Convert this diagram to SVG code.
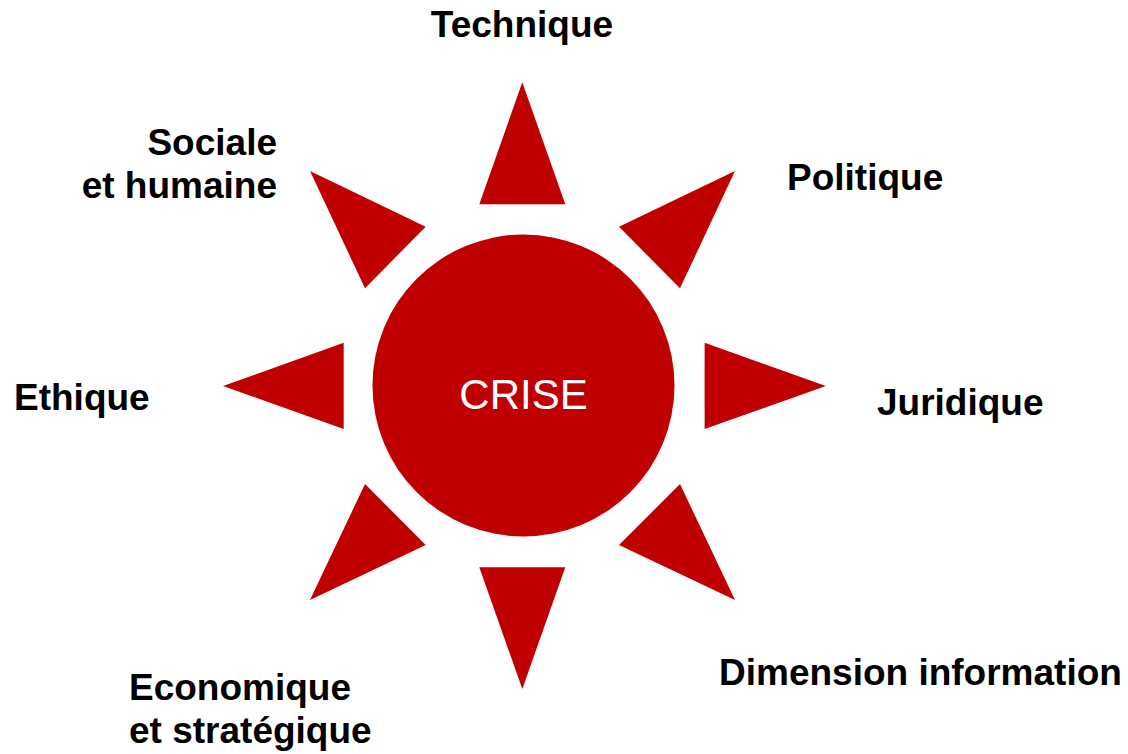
<svg xmlns="http://www.w3.org/2000/svg" width="1128" height="754" viewBox="0 0 1128 754">
<style>
.ray{fill:#c00000}
.lbl{font-family:"Liberation Sans",Arial,sans-serif;font-weight:bold;font-size:37px;fill:#000}
.ctr{font-family:"Liberation Sans",Arial,sans-serif;font-size:42px;fill:#fff}
</style>
<rect width="1128" height="754" fill="#fff"/>
<g id="rays">
<polygon class="ray" points="522.3,82.3 479.3,204.3 565.3,204.3"/>
<polygon class="ray" points="310,171 425.7,226.7 365,288.3"/>
<polygon class="ray" points="735,171 619,226.7 680,288.3"/>
<polygon class="ray" points="223,386 343.7,342.7 343.7,429"/>
<polygon class="ray" points="825.8,386 704.6,342.7 704.6,429"/>
<polygon class="ray" points="365,484 425.7,545 310,600"/>
<polygon class="ray" points="680,484 619,545 735,600"/>
<polygon class="ray" points="479.3,567.3 565.3,567.3 522.3,689"/>
</g>
<g id="crise">
<circle cx="523.5" cy="385.5" r="151" fill="#c00000"/>
<text class="ctr" x="523.5" y="409" text-anchor="middle">CRISE</text>
</g>
<g id="technique"><text class="lbl" x="522" y="37" text-anchor="middle">Technique</text></g>
<g id="sociale"><text class="lbl" x="277" y="155" text-anchor="end">Sociale</text><text class="lbl" x="277" y="198" text-anchor="end">et humaine</text></g>
<g id="politique"><text class="lbl" x="787" y="190">Politique</text></g>
<g id="ethique"><text class="lbl" x="14" y="410">Ethique</text></g>
<g id="juridique"><text class="lbl" x="877" y="415">Juridique</text></g>
<g id="dimension"><text class="lbl" x="719" y="685">Dimension information</text></g>
<g id="economique"><text class="lbl" x="129" y="700">Economique</text><text class="lbl" x="129" y="743">et stratégique</text></g>
</svg>
